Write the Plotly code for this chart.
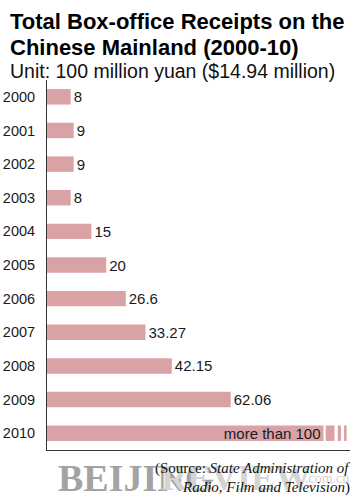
import plotly.graph_objects as go

# ---- data ----
years = ["2000", "2001", "2002", "2003", "2004", "2005", "2006", "2007", "2008", "2009", "2010"]
values = [8, 9, 9, 8, 15, 20, 26.6, 33.27, 42.15, 62.06, 100]
value_labels = ["8", "9", "9", "8", "15", "20", "26.6", "33.27", "42.15", "62.06", "more than 100"]
# the 2010 bar is drawn "broken": a main part, then short pieces (in data units)
break_at = 93.4
break_pieces = [(94.1, 97.1), (98.2, 99.3), (100.3, 101.2)]

title_1 = "Total Box-office Receipts on the"
title_2 = "Chinese Mainland (2000-10)"
subtitle = "Unit: 100 million yuan ($14.94 million)"
source_1 = "(Source: <i>State Administration of</i>"
source_2 = "<i>Radio, Film and Television</i>)"

W, H = 353, 500
ML, MR, MT, MB = 43, 3, 80, 50
BAR_COLOR = "#d9a3a6"
TEXT_COLOR = "#1a1a1a"
SANS = "Liberation Sans, Arial, Helvetica, sans-serif"
SERIF = "Liberation Serif, Times New Roman, serif"

plot_w = W - ML - MR
plot_h = H - MT - MB
x_max = plot_w / 3.0  # 3 px per unit


def px_x(px):
    return (px - ML) / plot_w


def px_y(py):
    return (H - MB - py) / plot_h


drawn = [v if v < 100 else break_at for v in values]
positions = ["outside" if v < 100 else "inside" for v in values]

fig = go.Figure()
fig.add_trace(go.Bar(
    y=years, x=drawn, orientation="h",
    marker=dict(color=BAR_COLOR, line=dict(width=0)),
    width=0.46,
    text=value_labels, textposition=positions,
    insidetextanchor="end", constraintext="none",
    textfont=dict(family=SANS, size=15, color=TEXT_COLOR),
    cliponaxis=False, hoverinfo="skip",
))
for a, b in break_pieces:
    fig.add_trace(go.Bar(
        y=[years[-1]], x=[b - a], base=[a], orientation="h",
        marker=dict(color=BAR_COLOR, line=dict(width=0)),
        width=0.46, hoverinfo="skip", showlegend=False,
    ))

annotations = [
    dict(text="<b>%s</b>" % title_1, x=px_x(3), y=px_y(21), xanchor="left", yanchor="middle",
         font=dict(family=SANS, size=22, color="#000")),
    dict(text="<b>%s</b>" % title_2, x=px_x(3), y=px_y(47), xanchor="left", yanchor="middle",
         font=dict(family=SANS, size=22, color="#000")),
    dict(text=subtitle, x=px_x(3), y=px_y(71), xanchor="left", yanchor="middle",
         font=dict(family=SANS, size=19.5, color="#111")),
    # watermark
    dict(text="<b>BEIJING</b>", x=px_x(52), y=px_y(478), xanchor="left", yanchor="middle",
         font=dict(family=SERIF, size=38, color="#a3a3a3")),
    dict(text="<b>REVIEW</b>", x=px_x(156), y=px_y(478), xanchor="left", yanchor="middle",
         font=dict(family=SERIF, size=36, color="#d4d4d4")),
    dict(text=".com.cn", x=px_x(302), y=px_y(478), xanchor="left", yanchor="middle",
         font=dict(family=SERIF, size=14, color="#d4d4d4")),
    # source
    dict(text=source_1, x=px_x(352), y=px_y(468), xanchor="right", yanchor="middle",
         font=dict(family=SERIF, size=15, color="#111")),
    dict(text=source_2, x=px_x(352), y=px_y(487), xanchor="right", yanchor="middle",
         font=dict(family=SERIF, size=15, color="#111")),
]
for a in annotations:
    a.update(xref="paper", yref="paper", showarrow=False, align="left")

fig.update_layout(
    width=W, height=H,
    margin=dict(l=ML, r=MR, t=MT, b=MB, pad=0),
    paper_bgcolor="white", plot_bgcolor="white",
    barmode="overlay", showlegend=False,
    annotations=annotations,
    xaxis=dict(range=[0, x_max], showgrid=False, zeroline=False, showticklabels=False,
               showline=True, linecolor="#333", linewidth=1, ticks="", fixedrange=True),
    yaxis=dict(categoryorder="array", categoryarray=years, range=[10.5, -0.5],
               showgrid=False, zeroline=False, showline=True, linecolor="#333", linewidth=1,
               ticks="", ticklabelstandoff=8,
               tickfont=dict(family=SANS, size=14.5, color=TEXT_COLOR), fixedrange=True),
)

fig.write_html("out.html", config={"displayModeBar": False})
